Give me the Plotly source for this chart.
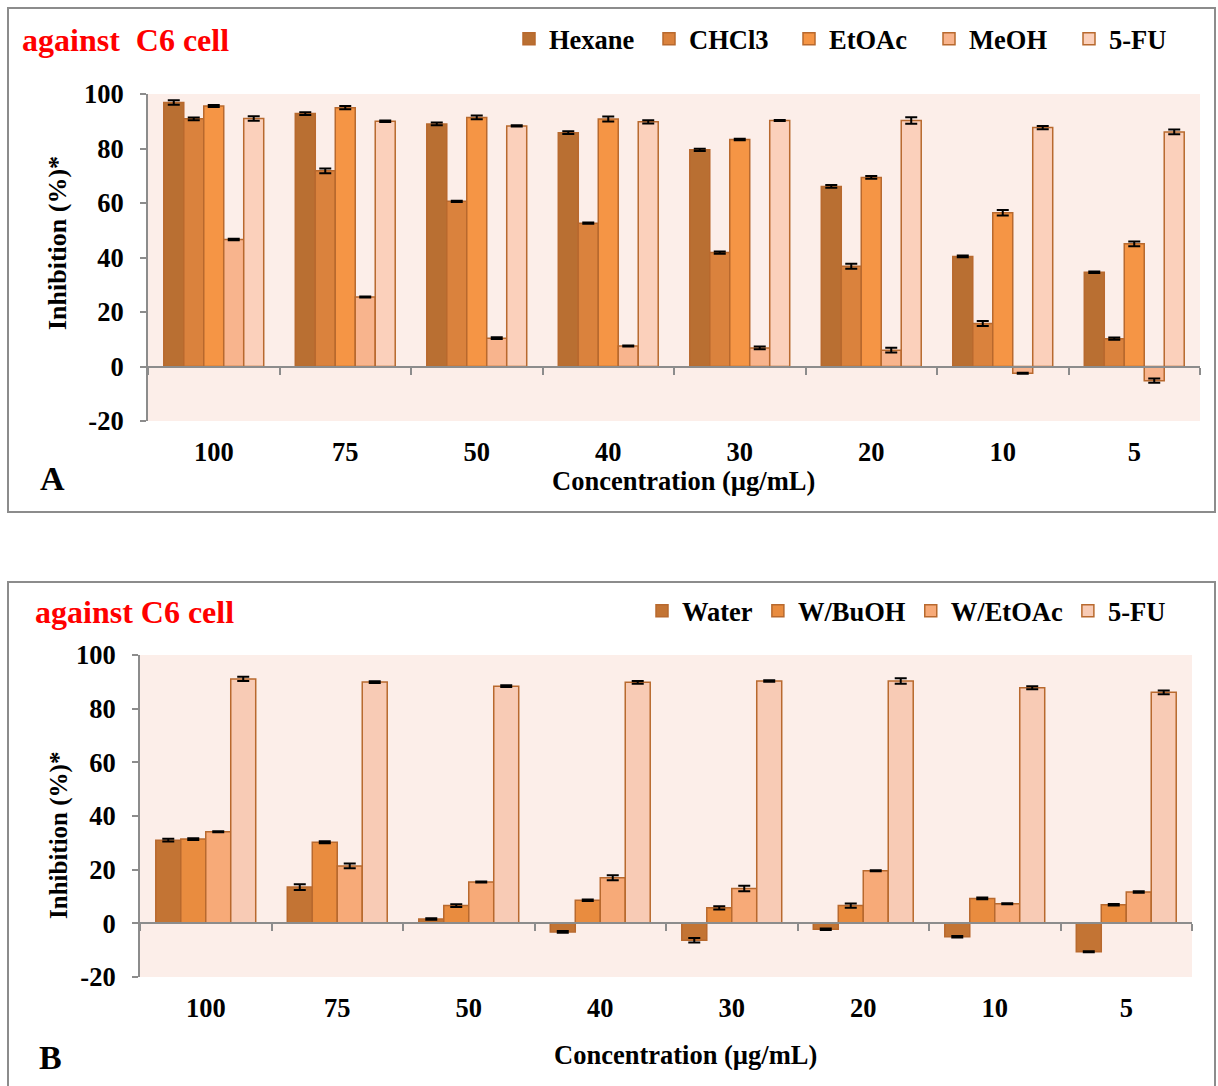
import plotly.graph_objects as go

W, H = 1218, 1086


def px(x):
    return x / W


def py(y):
    return 1 - y / H


concentrations = ["100", "75", "50", "40", "30", "20", "10", "5"]
y_ticks = [-20, 0, 20, 40, 60, 80, 100]

# Panel A: crude solvent extracts
hexane = [96.9, 92.8, 89.0, 85.8, 79.5, 66.1, 40.4, 34.6]
hexane_err = [0.8, 0.5, 0.5, 0.5, 0.4, 0.5, 0.3, 0.3]
chcl3 = [90.9, 71.8, 60.6, 52.6, 41.8, 36.8, 15.8, 10.2]
chcl3_err = [0.5, 0.9, 0.2, 0.2, 0.4, 0.9, 0.9, 0.4]
etoac = [95.6, 95.0, 91.4, 90.8, 83.3, 69.4, 56.4, 45.0]
etoac_err = [0.4, 0.6, 0.7, 0.9, 0.3, 0.5, 1.0, 0.9]
meoh = [46.6, 25.5, 10.4, 7.5, 6.8, 6.0, -2.5, -5.2]
meoh_err = [0.3, 0.2, 0.3, 0.2, 0.5, 0.9, 0.2, 0.8]
fu_a = [91.0, 90.0, 88.3, 89.8, 90.3, 90.3, 87.7, 86.1]
fu_a_err = [0.8, 0.3, 0.2, 0.6, 0.2, 1.2, 0.6, 0.9]

# Panel B: aqueous fractions
water = [31.0, 13.5, 1.6, -3.2, -6.3, -2.2, -5.0, -10.6]
water_err = [0.5, 1.1, 0.3, 0.3, 0.8, 0.3, 0.3, 0.2]
w_buoh = [31.4, 30.2, 6.6, 8.6, 5.8, 6.6, 9.3, 6.9]
w_buoh_err = [0.3, 0.4, 0.5, 0.3, 0.6, 0.8, 0.3, 0.3]
w_etoac = [34.1, 21.4, 15.4, 17.0, 13.0, 19.6, 7.3, 11.7]
w_etoac_err = [0.2, 0.9, 0.2, 0.9, 1.0, 0.2, 0.2, 0.3]
fu_b = [91.1, 89.9, 88.4, 89.8, 90.3, 90.3, 87.8, 86.1]
fu_b_err = [0.8, 0.3, 0.3, 0.5, 0.3, 1.0, 0.6, 0.7]

series_a = [
    ("Hexane", hexane, hexane_err, "#B96F32"),
    ("CHCl3", chcl3, chcl3_err, "#DA823D"),
    ("EtOAc", etoac, etoac_err, "#F59545"),
    ("MeOH", meoh, meoh_err, "#F8B48D"),
    ("5-FU", fu_a, fu_a_err, "#FBD0BB"),
]
series_b = [
    ("Water", water, water_err, "#C37434"),
    ("W/BuOH", w_buoh, w_buoh_err, "#E98C3F"),
    ("W/EtOAc", w_etoac, w_etoac_err, "#F7AA78"),
    ("5-FU", fu_b, fu_b_err, "#F8CBB5"),
]

SERIF = "Liberation Serif"
OUTLINE = "#B8692E"
GRAY = "#8C8C8C"
BG = "#FCEEE9"

fig = go.Figure()

for name, vals, err, col in series_a:
    fig.add_trace(go.Bar(
        x=concentrations, y=vals, name=name, xaxis="x", yaxis="y",
        marker=dict(color=col, line=dict(color=OUTLINE, width=1.5)),
        error_y=dict(type="data", array=err, color="black", thickness=2, width=6),
        legend="legend",
    ))

for name, vals, err, col in series_b:
    fig.add_trace(go.Bar(
        x=concentrations, y=vals, name=name, xaxis="x2", yaxis="y2",
        marker=dict(color=col, line=dict(color=OUTLINE, width=1.5)),
        error_y=dict(type="data", array=err, color="black", thickness=2, width=6),
        legend="legend2",
    ))

# empty helpers so the zero-line tick axes are drawn
fig.add_trace(go.Scatter(x=[], y=[], xaxis="x3", yaxis="y", showlegend=False))
fig.add_trace(go.Scatter(x=[], y=[], xaxis="x4", yaxis="y2", showlegend=False))

# plot-area geometry (paper fractions)
A_x = [px(148), px(1200)]
A_y = [py(421), py(94)]
B_x = [px(140), px(1192)]
B_y = [py(977), py(655)]

tick_font = dict(family=SERIF, size=26.5, color="black", weight="bold")


def yaxis(domain, anchor):
    return dict(
        domain=domain, anchor=anchor, range=[-20, 100],
        tickvals=y_ticks, ticktext=[str(v) for v in y_ticks],
        showgrid=False, zeroline=False, showline=True, linecolor=GRAY, linewidth=2,
        ticks="outside", ticklen=6, tickcolor=GRAY, tickwidth=2,
        tickfont=tick_font, ticklabelstandoff=11, automargin=False,
    )


def cat_axis(domain, anchor):
    return dict(
        domain=domain, anchor=anchor, type="category", showline=False,
        showgrid=False, zeroline=False, ticks="outside", ticklen=7,
        tickcolor="rgba(0,0,0,0)", tickfont=tick_font, automargin=False,
    )


def zero_axis(domain_x, domain_y, overlay):
    return dict(
        domain=domain_x, overlaying=overlay, anchor="free",
        position=domain_y[0] + (domain_y[1] - domain_y[0]) * 20 / 120,
        range=[-0.5, 7.5], tickvals=[i - 0.5 for i in range(9)],
        showticklabels=False, showgrid=False, zeroline=False,
        showline=True, linecolor=GRAY, linewidth=2,
        ticks="outside", ticklen=7, tickcolor=GRAY, tickwidth=2, automargin=False,
    )


legend_font = dict(family=SERIF, size=26.5, color="black", weight="bold")
label_font = dict(family=SERIF, size=26.5, color="black", weight="bold")

fig.update_layout(
    width=W, height=H,
    margin=dict(l=0, r=0, t=0, b=0, autoexpand=False),
    paper_bgcolor="white", plot_bgcolor=BG,
    barmode="group", bargap=0.24, bargroupgap=0,
    xaxis=cat_axis(A_x, "y"),
    yaxis=yaxis(A_y, "x"),
    xaxis2=cat_axis(B_x, "y2"),
    yaxis2=yaxis(B_y, "x2"),
    xaxis3=zero_axis(A_x, A_y, "x"),
    xaxis4=zero_axis(B_x, B_y, "x2"),
    legend=dict(
        orientation="h", x=px(509), xanchor="left", y=py(39), yanchor="middle",
        font=legend_font, bgcolor="rgba(0,0,0,0)", entrywidth=95,
        itemwidth=30, tracegroupgap=0,
    ),
    legend2=dict(
        orientation="h", x=px(642), xanchor="left", y=py(611), yanchor="middle",
        font=legend_font, bgcolor="rgba(0,0,0,0)", itemwidth=30,
    ),
    showlegend=True,
)

annotations = [
    dict(text="against\u00a0 C6 cell", x=px(20), y=py(40), xanchor="left", yanchor="middle",
         font=dict(family=SERIF, size=32, color="#FF0000", weight="bold")),
    dict(text="against C6 cell", x=px(33), y=py(612), xanchor="left", yanchor="middle",
         font=dict(family=SERIF, size=32, color="#FF0000", weight="bold")),
    dict(text="Inhibition (%)*", x=px(57), y=py(243), textangle=-90,
         xanchor="center", yanchor="middle",
         font=dict(family=SERIF, size=26, color="black", weight="bold")),
    dict(text="Inhibition (%)*", x=px(59), y=py(836), textangle=-90,
         xanchor="center", yanchor="middle",
         font=dict(family=SERIF, size=25, color="black", weight="bold")),
    dict(text="Concentration (µg/mL)", x=px(683), y=py(481),
         xanchor="center", yanchor="middle", font=label_font),
    dict(text="Concentration (µg/mL)", x=px(685), y=py(1055),
         xanchor="center", yanchor="middle", font=label_font),
    dict(text="A", x=px(52), y=py(478), xanchor="center", yanchor="middle",
         font=dict(family=SERIF, size=34, color="black", weight="bold")),
    dict(text="B", x=px(50), y=py(1057), xanchor="center", yanchor="middle",
         font=dict(family=SERIF, size=34, color="black", weight="bold")),
]
for a in annotations:
    a.update(xref="paper", yref="paper", showarrow=False)
fig.update_layout(annotations=annotations)

# panel frames
fig.update_layout(shapes=[
    dict(type="rect", xref="paper", yref="paper",
         x0=px(8), x1=px(1215), y0=py(512), y1=py(8),
         line=dict(color=GRAY, width=2), fillcolor="rgba(0,0,0,0)", layer="below"),
    dict(type="rect", xref="paper", yref="paper",
         x0=px(8), x1=px(1215), y0=py(1095), y1=py(582),
         line=dict(color=GRAY, width=2), fillcolor="rgba(0,0,0,0)", layer="below"),
])

fig.write_html("out.html")
